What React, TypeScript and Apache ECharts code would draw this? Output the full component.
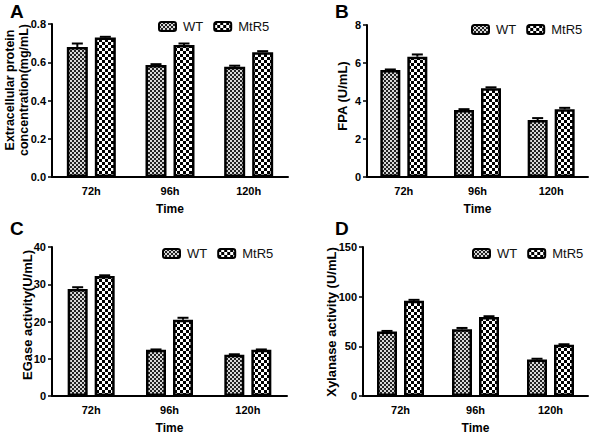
import React, { useEffect, useRef } from "react";
import * as echarts from "echarts";

const categories = ["72h", "96h", "120h"];
const seriesNames = ["WT", "MtR5"];

const protWT = [0.68, 0.585, 0.576];
const protWTErr = [0.018, 0.005, 0.006];
const protMt = [0.73, 0.69, 0.652];
const protMtErr = [0.003, 0.008, 0.006];

const fpaWT = [5.63, 3.53, 3.0];
const fpaWTErr = [0.03, 0.04, 0.1];
const fpaMt = [6.33, 4.67, 3.56];
const fpaMtErr = [0.12, 0.05, 0.08];

const egWT = [28.7, 12.4, 11.1];
const egWTErr = [0.5, 0.1, 0.1];
const egMt = [32.2, 20.5, 12.4];
const egMtErr = [0.2, 0.5, 0.1];

const xyWT = [65, 67.3, 36.7];
const xyWTErr = [0.5, 1.2, 0.8];
const xyMt = [95.8, 79.5, 51.5];
const xyMtErr = [1, 0.8, 0.6];

const FONT = 'Arial, "Liberation Sans", sans-serif';

function makeChecker(cell: number, dark: string, light: string) {
  const c = document.createElement("canvas");
  c.width = cell * 2;
  c.height = cell * 2;
  const ctx = c.getContext("2d")!;
  ctx.fillStyle = light;
  ctx.fillRect(0, 0, cell * 2, cell * 2);
  ctx.fillStyle = dark;
  ctx.fillRect(0, 0, cell, cell);
  ctx.fillRect(cell, cell, cell, cell);
  return c;
}

export default function App() {
  const ref = useRef<HTMLDivElement>(null);
  useEffect(() => {
    if (!ref.current) return;
    const chart = echarts.init(ref.current, null, { renderer: "svg" });
    const wtPat = makeChecker(2, "#222", "#d8d8d8");
    const mtPat = makeChecker(3, "#000", "#fff");
    const patterns = [
      { image: wtPat, repeat: "repeat" },
      { image: mtPat, repeat: "repeat" },
    ];

    const panels = [
      {
        letter: "A", lx: 10, ly: 2,
        grid: { left: 52, top: 24, width: 236, height: 153 },
        max: 0.8, interval: 0.2, dec: 1, nameSize: 12.5,
        names: [{ t: "Extracellular protein", x: 10, y: 90 }, { t: "concentration(mg/mL)", x: 24, y: 90 }],
        vals: [protWT, protMt], errs: [protWTErr, protMtErr],
        legend: { left: 153, top: 15 }, bw: 21,
      },
      {
        letter: "B", lx: 335, ly: 2,
        grid: { left: 367, top: 25, width: 221, height: 152 },
        max: 8, interval: 2, dec: 0, nameSize: 13,
        names: [{ t: "FPA (U/mL)", x: 342, y: 96 }],
        vals: [fpaWT, fpaMt], errs: [fpaWTErr, fpaMtErr],
        legend: { left: 466, top: 18 }, bw: 20,
      },
      {
        letter: "C", lx: 10, ly: 219,
        grid: { left: 52, top: 247, width: 235, height: 152 },
        max: 40, interval: 10, dec: 0, nameSize: 13,
        names: [{ t: "EGase activity(U/mL)", x: 27, y: 315 }],
        vals: [egWT, egMt], errs: [egWTErr, egMtErr],
        legend: { left: 157, top: 242 }, bw: 20,
      },
      {
        letter: "D", lx: 335, ly: 219,
        grid: { left: 363, top: 247, width: 225, height: 152 },
        max: 150, interval: 50, dec: 0, nameSize: 13,
        names: [{ t: "Xylanase activity (U/mL)", x: 331, y: 322 }],
        vals: [xyWT, xyMt], errs: [xyWTErr, xyMtErr],
        legend: { left: 467, top: 242 }, bw: 20,
      },
    ];

    const grids: any[] = [];
    const xAxes: any[] = [];
    const yAxes: any[] = [];
    const series: any[] = [];
    const legends: any[] = [];
    const graphics: any[] = [];

    panels.forEach((p, i) => {
      grids.push({ ...p.grid, containLabel: false });
      xAxes.push({
        type: "category",
        gridIndex: i,
        data: categories,
        name: "Time",
        nameLocation: "middle",
        nameGap: 26,
        nameTextStyle: { fontFamily: FONT, fontWeight: "bold", fontSize: 12, color: "#000" },
        axisLine: { lineStyle: { color: "#000", width: 2 } },
        axisTick: { show: false },
        axisLabel: { fontFamily: FONT, fontWeight: "bold", fontSize: 11, color: "#000", margin: 8 },
      });
      yAxes.push({
        type: "value",
        gridIndex: i,
        min: 0,
        max: p.max,
        interval: p.interval,
        axisLine: { show: true, lineStyle: { color: "#000", width: 2 } },
        axisTick: { show: true, length: 4, lineStyle: { color: "#000", width: 1.5 } },
        splitLine: { show: false },
        axisLabel: {
          fontFamily: FONT, fontWeight: "bold", fontSize: 11, color: "#000", margin: 6,
          formatter: (v: number) => v.toFixed(p.dec),
        },
      });
      const gap = 7;
      const offs = [-(p.bw + gap) / 2, (p.bw + gap) / 2];
      [0, 1].forEach((s) => {
        series.push({
          type: "bar",
          name: seriesNames[s],
          xAxisIndex: i,
          yAxisIndex: i,
          data: p.vals[s],
          barWidth: p.bw,
          barGap: (gap / p.bw) * 100 + "%",
          itemStyle: { color: patterns[s], borderColor: "#000", borderWidth: 2.5 },
          emphasis: { disabled: true },
        });
      });
      [0, 1].forEach((s) => {
        series.push({
          type: "custom",
          xAxisIndex: i,
          yAxisIndex: i,
          z: 5,
          silent: true,
          data: p.vals[s].map((v, k) => [k, v, p.errs[s][k]]),
          renderItem: (params: any, api: any) => {
            const k = api.value(0);
            const v = api.value(1);
            const e = api.value(2);
            const base = api.coord([k, v]);
            const top = api.coord([k, v + e]);
            const x = base[0] + offs[s];
            const ty = top[1];
            return {
              type: "group",
              children: [
                { type: "line", shape: { x1: x, y1: base[1], x2: x, y2: ty }, style: { stroke: "#000", lineWidth: 2 } },
                { type: "line", shape: { x1: x - 5.5, y1: ty, x2: x + 5.5, y2: ty }, style: { stroke: "#000", lineWidth: 2 } },
              ],
            };
          },
        });
      });
      legends.push({
        ...p.legend,
        orient: "horizontal",
        data: seriesNames,
        itemWidth: 17,
        itemHeight: 9,
        itemGap: 10,
        selectedMode: false,
        textStyle: { fontFamily: FONT, fontSize: 13, color: "#111", padding: [0, 0, 0, 2] },
      });
      graphics.push({
        type: "text",
        left: p.lx,
        top: p.ly,
        style: { text: p.letter, font: `bold 19px ${FONT}`, fill: "#000" },
      });
      p.names.forEach((n) => {
        graphics.push({
          type: "text",
          x: n.x,
          y: n.y,
          rotation: Math.PI / 2,
          style: {
            text: n.t,
            font: `bold ${p.nameSize}px ${FONT}`,
            fill: "#000",
            align: "center",
            verticalAlign: "middle",
          },
        });
      });
    });

    chart.setOption({
      animation: false,
      backgroundColor: "#fff",
      grid: grids,
      xAxis: xAxes,
      yAxis: yAxes,
      legend: legends,
      series,
      graphic: graphics,
    });
    return () => chart.dispose();
  }, []);
  return (
    <div
      ref={ref}
      style={{ position: "fixed", left: 0, top: 0, width: 600, height: 435, background: "#fff" }}
    />
  );
}
